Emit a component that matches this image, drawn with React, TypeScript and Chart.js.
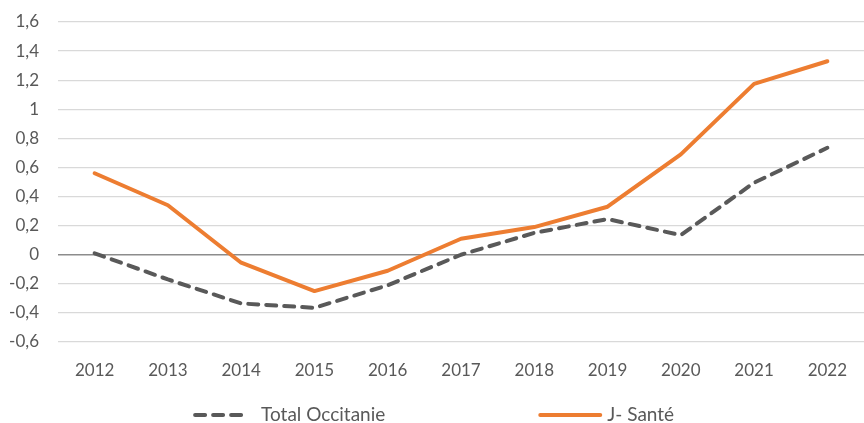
import React, { useEffect, useRef } from "react";
import { Chart, registerables } from "chart.js";

Chart.register(...registerables);

const years = ["2012", "2013", "2014", "2015", "2016", "2017", "2018", "2019", "2020", "2021", "2022"];
const totalOccitanie = [0.01, -0.17, -0.335, -0.365, -0.21, 0.0, 0.15, 0.245, 0.135, 0.495, 0.735];
const santeJ = [0.56, 0.34, -0.055, -0.25, -0.11, 0.11, 0.19, 0.33, 0.69, 1.175, 1.33];
const seriesNames = ["Total Occitanie", "J- Santé"];
const yMin = -0.6;
const yMax = 1.6;
const yStep = 0.2;

const FONT = "Lato, 'Open Sans', sans-serif";
const TEXT = "#595959";

const legendPlugin = {
  id: "customLegend",
  afterDraw(chart: any) {
    const ctx = chart.ctx;
    const W = chart.width;
    const y = 415;
    const starts = [W * 0.2235, W * 0.623];
    const lens = [57, 64];
    chart.data.datasets.forEach((ds: any, i: number) => {
      const x0 = starts[i];
      ctx.save();
      ctx.strokeStyle = ds.borderColor;
      ctx.lineWidth = ds.borderWidth;
      ctx.lineCap = "round";
      ctx.setLineDash(ds.borderDash || []);
      ctx.beginPath();
      ctx.moveTo(x0 + 2, y);
      ctx.lineTo(x0 + lens[i] - 2, y);
      ctx.stroke();
      ctx.setLineDash([]);
      ctx.fillStyle = TEXT;
      ctx.font = `19px ${FONT}`;
      ctx.textBaseline = "middle";
      ctx.textAlign = "left";
      ctx.fillText(ds.label, x0 + lens[i] + (i === 0 ? 11 : 5), y);
      ctx.restore();
    });
  },
};

export default function App() {
  const ref = useRef<HTMLCanvasElement>(null);
  useEffect(() => {
    document.body.style.margin = "0";
    const chart = new Chart(ref.current!, {
      type: "line",
      data: {
        labels: years,
        datasets: [
          {
            label: seriesNames[0],
            data: totalOccitanie,
            borderColor: "#595959",
            backgroundColor: "#595959",
            borderWidth: 4,
            borderDash: [10, 8],
            borderCapStyle: "round",
            borderJoinStyle: "round",
            pointRadius: 0,
            tension: 0,
          },
          {
            label: seriesNames[1],
            data: santeJ,
            borderColor: "#ED7D31",
            backgroundColor: "#ED7D31",
            borderWidth: 4,
            borderCapStyle: "round",
            borderJoinStyle: "round",
            pointRadius: 0,
            tension: 0,
          },
        ],
      },
      options: {
        animation: false,
        responsive: false,
        maintainAspectRatio: false,
        layout: { padding: { top: 22, right: -6, bottom: 41, left: 0 } },
        plugins: { legend: { display: false }, tooltip: { enabled: false } },
        scales: {
          x: {
            offset: true,
            grid: { display: false, drawTicks: false },
            border: { display: false },
            ticks: { color: TEXT, font: { family: FONT, size: 17 }, padding: 18, maxRotation: 0 },
            afterFit: (s: any) => {
              s.height = 40;
              s.paddingLeft = 0;
              s.paddingRight = 0;
            },
          },
          y: {
            min: yMin,
            max: yMax,
            grid: {
              drawTicks: false,
              color: (c: any) => (c.tick && Math.abs(c.tick.value) < 1e-9 ? "#8c8c8c" : "#d9d9d9"),
              lineWidth: (c: any) => (c.tick && Math.abs(c.tick.value) < 1e-9 ? 1.6 : 1.2),
            },
            border: { display: false },
            ticks: {
              stepSize: yStep,
              color: TEXT,
              padding: 19,
              font: { family: FONT, size: 17 },
              callback: (v: any) => String(Math.round(Number(v) * 10) / 10).replace(".", ","),
            },
            afterFit: (s: any) => {
              s.width = 58;
              s.paddingTop = 10;
              s.paddingBottom = 10;
            },
          },
        },
      },
      plugins: [legendPlugin],
    });
    return () => chart.destroy();
  }, []);
  return (
    <div style={{ width: 864, height: 423 }}>
      <canvas ref={ref} width={864} height={423} style={{ width: 864, height: 423, display: "block" }} />
    </div>
  );
}
